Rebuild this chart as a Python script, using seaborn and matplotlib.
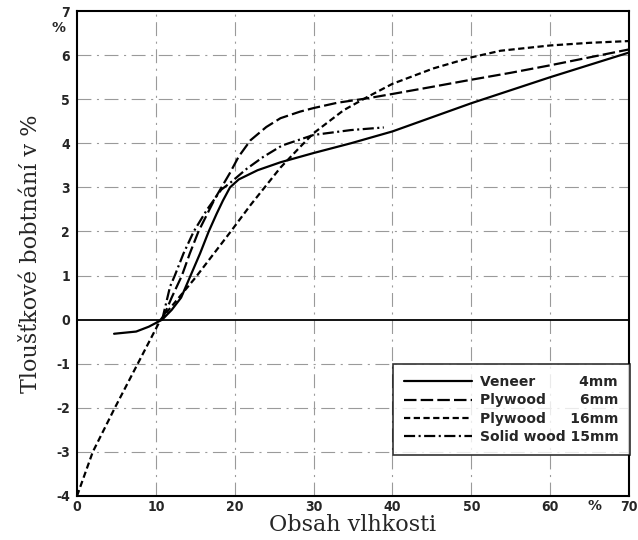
import matplotlib
matplotlib.use("Agg")
import matplotlib.pyplot as plt
import seaborn as sns
import pandas as pd

# ---- data ----
veneer_x = [4.7, 7.5, 9.1, 10.8, 12.0, 13.2, 14.4, 15.6, 16.7, 17.7, 18.5, 19.4, 20.5, 22.9, 25.8, 30, 34.7, 40, 50, 60, 70]
veneer_y = [-0.32, -0.27, -0.16, 0, 0.22, 0.5, 1.0, 1.5, 2.0, 2.4, 2.7, 3.0, 3.18, 3.39, 3.57, 3.78, 4.0, 4.27, 4.91, 5.5, 6.06]

ply6_x = [10.8, 12.0, 13.3, 14.3, 15.4, 17.5, 19.4, 20.5, 22.0, 24.0, 25.8, 28.3, 30, 33, 36.8, 40, 45, 49.6, 55, 60, 65, 70]
ply6_y = [0, 0.5, 1.0, 1.5, 2.0, 2.75, 3.33, 3.7, 4.07, 4.37, 4.57, 4.72, 4.8, 4.92, 5.02, 5.12, 5.28, 5.43, 5.6, 5.77, 5.95, 6.13]

ply16_x = [0, 2, 4.8, 7.7, 10.6, 15, 19.5, 22, 25.8, 28.3, 30, 33.8, 36.8, 40, 45.2, 50, 53.7, 60, 65, 70]
ply16_y = [-4, -3, -2, -1, 0, 0.95, 2.0, 2.6, 3.45, 3.92, 4.23, 4.75, 5.05, 5.35, 5.7, 5.95, 6.1, 6.22, 6.28, 6.32]

solid_x = [10.8, 11.8, 12.4, 13.5, 14.8, 16.5, 18.3, 19.4, 21.5, 23.6, 26, 30, 34.7, 38.9]
solid_y = [0, 0.75, 1.0, 1.5, 2.0, 2.5, 2.95, 3.1, 3.42, 3.69, 3.95, 4.19, 4.3, 4.36]

series_labels = ["Veneer         4mm", "Plywood       6mm", "Plywood     16mm", "Solid wood 15mm"]

x_ticks = [0, 10, 20, 30, 40, 50, 60, 70]
x_ticklabels = ["0", "10", "20", "30", "40", "50", "60", "70"]
y_ticks = [-4, -3, -2, -1, 0, 1, 2, 3, 4, 5, 6, 7]
y_ticklabels = ["-4", "-3", "-2", "-1", "0", "1", "2", "3", "4", "5", "6", "7"]

x_label = "Obsah vlhkosti"
y_label = "Tloušťkové bobtnání v %"

# ---- style ----
sns.set_style("white")
plt.rcParams["font.family"] = ["DejaVu Sans"]
plt.rcParams["lines.scale_dashes"] = False

fig = plt.figure(figsize=(6.38, 5.40), dpi=100)
ax = fig.add_axes([0.1207, 0.0815, 0.8653, 0.898])

frames = []
for name, xs, ys in [(series_labels[0], veneer_x, veneer_y),
                     (series_labels[1], ply6_x, ply6_y),
                     (series_labels[2], ply16_x, ply16_y),
                     (series_labels[3], solid_x, solid_y)]:
    frames.append(pd.DataFrame({"x": xs, "y": ys, "series": name}))
df = pd.concat(frames, ignore_index=True)

styles = {
    series_labels[0]: "-",
    series_labels[1]: (0, (9, 3)),
    series_labels[2]: (0, (4.5, 2.5)),
    series_labels[3]: (0, (8, 2.5, 1.5, 2.5)),
}

# grid
for gx in x_ticks[1:-1]:
    ax.axvline(gx, color="#9a9a9a", lw=0.8, ls=(0, (10, 4, 1.5, 4)), zorder=0)
for gy in y_ticks[1:-1]:
    if gy == 0:
        continue
    ax.axhline(gy, color="#9a9a9a", lw=0.8, ls=(0, (10, 4, 1.5, 4)), zorder=0)
ax.axhline(0, color="black", lw=1.3, zorder=1)

for name in series_labels:
    sub = df[df["series"] == name]
    sns.lineplot(data=sub, x="x", y="y", ax=ax, color="black", lw=1.6,
                 linestyle=styles[name], sort=False, label=name, zorder=3)

ax.set_xlim(0, 70)
ax.set_ylim(-4, 7)
ax.set_xticks(x_ticks)
ax.set_xticklabels(x_ticklabels)
ax.set_yticks(y_ticks)
ax.set_yticklabels(y_ticklabels)
ax.tick_params(axis="x", length=0, labelsize=10, pad=3)
ax.tick_params(axis="y", length=0, labelsize=10, pad=5)
for lab in ax.get_xticklabels() + ax.get_yticklabels():
    lab.set_fontweight("bold")
    lab.set_fontstretch("condensed")

ax.text(-0.02, 6.62, "%", transform=ax.get_yaxis_transform(), ha="right", va="center",
        fontsize=10, fontweight="bold")
ax.text(65.6, -0.007, "%", transform=ax.get_xaxis_transform(), ha="center", va="top",
        fontsize=10, fontweight="bold")

ax.set_xlabel(x_label, fontsize=16, family="DejaVu Serif", labelpad=0)
ax.set_ylabel(y_label, fontsize=16, family="DejaVu Serif", labelpad=10)

for sp in ax.spines.values():
    sp.set_visible(True)
    sp.set_color("black")
    sp.set_linewidth(1.5)

leg = ax.legend(loc="upper left", bbox_to_anchor=(0.572, 0.272), frameon=True,
                fancybox=False, edgecolor="black", fontsize=10, handlelength=4.9,
                labelspacing=0.3, borderpad=0.8, handletextpad=0.6, borderaxespad=0)
leg.get_frame().set_linewidth(1.2)
for t in leg.get_texts():
    t.set_fontweight("bold")

fig.savefig("out.png", dpi=100)
